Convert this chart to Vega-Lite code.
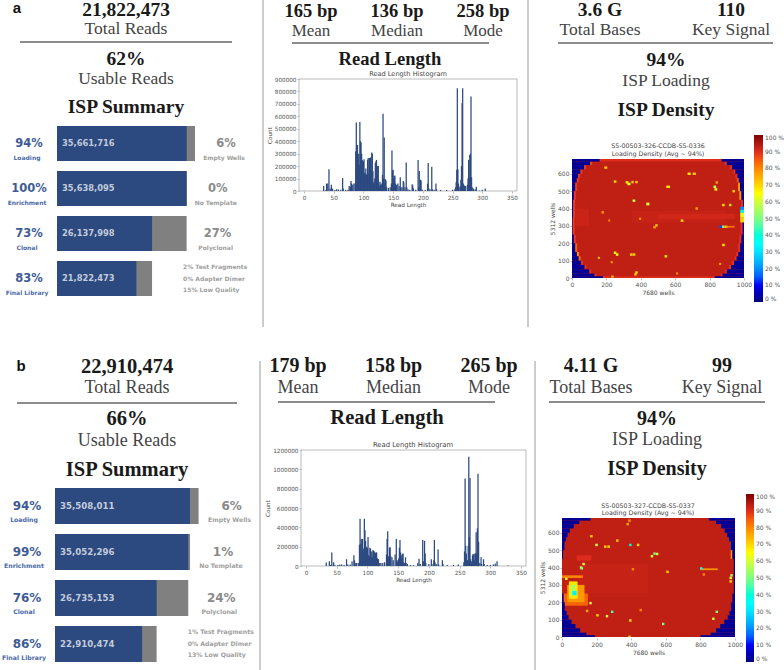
{"$schema":"https://vega.github.io/schema/vega-lite/v6.json","width":784,"height":670,"autosize":{"type":"none"},"padding":0,"background":"white",
"config":{"view":{"stroke":null},"axis":{"grid":false,"domain":false,"labelFont":"DejaVu Sans","titleFont":"DejaVu Sans","labelFontSize":5.7,"titleFontSize":5.7,"labelColor":"#555","titleColor":"#444","titleFontWeight":"normal","tickColor":"#777","tickSize":2,"tickWidth":0.5,"labelPadding":1,"titlePadding":2,"labelOverlap":false,"labelFlush":false},"legend":{"labelFont":"DejaVu Sans","labelFontSize":6,"labelColor":"#555"}},
"resolve":{"scale":{"x":"independent","y":"independent","color":"independent"},"axis":{"x":"independent","y":"independent"}},
"layer":[
{"data":{"values":[{"t":"a","c":"L"}]},"mark":{"type":"text","font":"Liberation Sans","fontWeight":"bold","fontSize":15,"color":"#111"},"encoding":{"text":{"field":"t"},"x":{"field":"c","type":"nominal","scale":{"type":"point","range":[17,17],"padding":0},"axis":null},"y":{"field":"t","type":"nominal","scale":{"type":"point","range":[8,8],"padding":0},"axis":null}}},
{"data":{"values":[{"t":"21,822,473","c":"L"},{"t":"62%","c":"L"},{"t":"ISP Summary","c":"L"}]},"mark":{"type":"text","font":"Liberation Serif","fontWeight":"bold","fontSize":19.5,"color":"#1a1a1a"},"encoding":{"text":{"field":"t"},"x":{"field":"c","type":"nominal","scale":{"type":"point","range":[126,126],"padding":0},"axis":null},"y":{"field":"t","type":"nominal","sort":null,"scale":{"type":"point","range":[10,107],"padding":0},"axis":null}}},
{"data":{"values":[{"t":"Total Reads","c":"L"},{"t":"Usable Reads","c":"L"}]},"mark":{"type":"text","font":"Liberation Serif","fontSize":17.5,"color":"#444"},"encoding":{"text":{"field":"t"},"x":{"field":"c","type":"nominal","scale":{"type":"point","range":[126,126],"padding":0},"axis":null},"y":{"field":"t","type":"nominal","sort":null,"scale":{"type":"point","range":[29,79],"padding":0},"axis":null}}},
{"data":{"values":[{"t":"165 bp","c":"V"},{"t":"136 bp","c":"V"},{"t":"258 bp","c":"V"}]},"mark":{"type":"text","font":"Liberation Serif","fontWeight":"bold","fontSize":18.5,"color":"#1a1a1a"},"encoding":{"text":{"field":"t"},"x":{"field":"t","type":"nominal","sort":null,"scale":{"type":"point","range":[311,483],"padding":0},"axis":null},"y":{"field":"c","type":"nominal","scale":{"type":"point","range":[11,11],"padding":0},"axis":null}}},
{"data":{"values":[{"t":"Mean","c":"V"},{"t":"Median","c":"V"},{"t":"Mode","c":"V"}]},"mark":{"type":"text","font":"Liberation Serif","fontSize":17,"color":"#444"},"encoding":{"text":{"field":"t"},"x":{"field":"t","type":"nominal","sort":null,"scale":{"type":"point","range":[311,483],"padding":0},"axis":null},"y":{"field":"c","type":"nominal","scale":{"type":"point","range":[31,31],"padding":0},"axis":null}}},
{"data":{"values":[{"t":"Read Length","c":"V"}]},"mark":{"type":"text","font":"Liberation Serif","fontWeight":"bold","fontSize":18.6,"color":"#1a1a1a"},"encoding":{"text":{"field":"t"},"x":{"field":"t","type":"nominal","scale":{"type":"point","range":[390,390],"padding":0},"axis":null},"y":{"field":"c","type":"nominal","scale":{"type":"point","range":[59,59],"padding":0},"axis":null}}},
{"data":{"values":[{"t":"3.6 G","c":"V"},{"t":"110","c":"V"}]},"mark":{"type":"text","font":"Liberation Serif","fontWeight":"bold","fontSize":19.5,"color":"#1a1a1a"},"encoding":{"text":{"field":"t"},"x":{"field":"t","type":"nominal","sort":null,"scale":{"type":"point","range":[600,731],"padding":0},"axis":null},"y":{"field":"c","type":"nominal","scale":{"type":"point","range":[10,10],"padding":0},"axis":null}}},
{"data":{"values":[{"t":"Total Bases","c":"V"},{"t":"Key Signal","c":"V"}]},"mark":{"type":"text","font":"Liberation Serif","fontSize":17.5,"color":"#444"},"encoding":{"text":{"field":"t"},"x":{"field":"t","type":"nominal","sort":null,"scale":{"type":"point","range":[600,731],"padding":0},"axis":null},"y":{"field":"c","type":"nominal","scale":{"type":"point","range":[30,30],"padding":0},"axis":null}}},
{"data":{"values":[{"t":"94%","c":"V"},{"t":"ISP Density","c":"V"}]},"mark":{"type":"text","font":"Liberation Serif","fontWeight":"bold","fontSize":19.5,"color":"#1a1a1a"},"encoding":{"text":{"field":"t"},"x":{"field":"c","type":"nominal","scale":{"type":"point","range":[666,666],"padding":0},"axis":null},"y":{"field":"t","type":"nominal","sort":null,"scale":{"type":"point","range":[60,110],"padding":0},"axis":null}}},
{"data":{"values":[{"t":"ISP Loading","c":"V"}]},"mark":{"type":"text","font":"Liberation Serif","fontSize":17.5,"color":"#444"},"encoding":{"text":{"field":"t"},"x":{"field":"c","type":"nominal","scale":{"type":"point","range":[666,666],"padding":0},"axis":null},"y":{"field":"t","type":"nominal","scale":{"type":"point","range":[81,81],"padding":0},"axis":null}}},
{"data":{"values":[{"a":0,"b":1,"k":"r"}]},"mark":{"type":"rule","color":"#666","strokeWidth":1.3},"encoding":{"x":{"field":"a","type":"quantitative","scale":{"domain":[0,1],"range":[20,232]},"axis":null},"x2":{"field":"b"},"y":{"field":"k","type":"nominal","scale":{"type":"point","range":[42,42],"padding":0},"axis":null}}},
{"data":{"values":[{"a":0,"b":1,"k":"r"}]},"mark":{"type":"rule","color":"#666","strokeWidth":1.3},"encoding":{"x":{"field":"a","type":"quantitative","scale":{"domain":[0,1],"range":[292,489]},"axis":null},"x2":{"field":"b"},"y":{"field":"k","type":"nominal","scale":{"type":"point","range":[43,43],"padding":0},"axis":null}}},
{"data":{"values":[{"a":0,"b":1,"k":"r"}]},"mark":{"type":"rule","color":"#666","strokeWidth":1.3},"encoding":{"x":{"field":"a","type":"quantitative","scale":{"domain":[0,1],"range":[558,773]},"axis":null},"x2":{"field":"b"},"y":{"field":"k","type":"nominal","scale":{"type":"point","range":[43,43],"padding":0},"axis":null}}},
{"data":{"values":[{"a":0,"b":1,"k":"d1"},{"a":0,"b":1,"k":"d2"}]},"mark":{"type":"rule","color":"#999","strokeWidth":1},"encoding":{"y":{"field":"a","type":"quantitative","scale":{"domain":[0,1],"range":[0,327]},"axis":null},"y2":{"field":"b"},"x":{"field":"k","type":"nominal","sort":null,"scale":{"type":"point","range":[263,528],"padding":0},"axis":null}}},
{"data":{"values":[
{"stage":"Loading","blue":35661716,"total":37937996,"reads":"35,661,716","pctL":"94%","labL":"Loading","pctR":"6%","labR":"Empty Wells","n1":"","n2":"","n3":""},
{"stage":"Enrichment","blue":35638095,"total":35661716,"reads":"35,638,095","pctL":"100%","labL":"Enrichment","pctR":"0%","labR":"No Template","n1":"","n2":"","n3":""},
{"stage":"Clonal","blue":26137998,"total":35638095,"reads":"26,137,998","pctL":"73%","labL":"Clonal","pctR":"27%","labR":"Polyclonal","n1":"","n2":"","n3":""},
{"stage":"Final Library","blue":21822473,"total":26137998,"reads":"21,822,473","pctL":"83%","labL":"Final Library","pctR":"","labR":"","n1":"2% Test Fragments","n2":"0% Adapter Dimer","n3":"15% Low Quality"}]},
"encoding":{"y":{"field":"stage","type":"nominal","sort":null,"scale":{"type":"band","range":[121,301],"paddingInner":0.2222,"paddingOuter":0.1111},"axis":null}},
"layer":[
{"mark":{"type":"bar","color":"#808080"},"encoding":{"x":{"field":"total","type":"quantitative","stack":null,"scale":{"domain":[0,37937996],"range":[57,195]},"axis":null}}},
{"mark":{"type":"bar","color":"#2c4a80"},"encoding":{"x":{"field":"blue","type":"quantitative","stack":null,"scale":{"domain":[0,37937996],"range":[57,195]},"axis":null}}},
{"mark":{"type":"text","align":"left","dx":5,"font":"DejaVu Sans","fontWeight":"bold","fontSize":8.3,"color":"#c3cbdb"},"encoding":{"text":{"field":"reads"},"x":{"datum":0,"scale":{"domain":[0,37937996],"range":[57,195]},"axis":null}}},
{"mark":{"type":"text","dx":-28,"font":"DejaVu Sans","fontWeight":"bold","fontSize":11.5,"color":"#3e5b96"},"encoding":{"text":{"field":"pctL"},"x":{"datum":0,"scale":{"domain":[0,37937996],"range":[57,195]},"axis":null}}},
{"mark":{"type":"text","dx":-30,"dy":14,"font":"DejaVu Sans","fontWeight":"bold","fontSize":6,"color":"#4a6aa8"},"encoding":{"text":{"field":"labL"},"x":{"datum":0,"scale":{"domain":[0,37937996],"range":[57,195]},"axis":null}}},
{"mark":{"type":"text","dx":31,"font":"DejaVu Sans","fontWeight":"bold","fontSize":11.5,"color":"#8a8a8a"},"encoding":{"text":{"field":"pctR"},"x":{"field":"total","type":"quantitative","stack":null,"scale":{"domain":[0,37937996],"range":[57,195]},"axis":null}}},
{"mark":{"type":"text","dx":29,"dy":14,"font":"DejaVu Sans","fontWeight":"bold","fontSize":6,"color":"#a0a0a0"},"encoding":{"text":{"field":"labR"},"x":{"field":"total","type":"quantitative","stack":null,"scale":{"domain":[0,37937996],"range":[57,195]},"axis":null}}},
{"mark":{"type":"text","align":"left","dx":31,"dy":-12,"font":"DejaVu Sans","fontWeight":"bold","fontSize":6,"color":"#a0a0a0"},"encoding":{"text":{"field":"n1"},"x":{"field":"total","type":"quantitative","stack":null,"scale":{"domain":[0,37937996],"range":[57,195]},"axis":null}}},
{"mark":{"type":"text","align":"left","dx":31,"dy":0,"font":"DejaVu Sans","fontWeight":"bold","fontSize":6,"color":"#a0a0a0"},"encoding":{"text":{"field":"n2"},"x":{"field":"total","type":"quantitative","stack":null,"scale":{"domain":[0,37937996],"range":[57,195]},"axis":null}}},
{"mark":{"type":"text","align":"left","dx":31,"dy":11,"font":"DejaVu Sans","fontWeight":"bold","fontSize":6,"color":"#a0a0a0"},"encoding":{"text":{"field":"n3"},"x":{"field":"total","type":"quantitative","stack":null,"scale":{"domain":[0,37937996],"range":[57,195]},"axis":null}}}
]},
{"data":{"values":[{"t":"Read Length Histogram","c":"V"}]},"mark":{"type":"text","font":"DejaVu Sans","fontSize":6.6,"color":"#444"},"encoding":{"text":{"field":"t"},"x":{"field":"t","type":"nominal","scale":{"type":"point","range":[408,408],"padding":0},"axis":null},"y":{"field":"c","type":"nominal","scale":{"type":"point","range":[74,74],"padding":0},"axis":null}}},
{"data":{"values":[{"x0":0,"x1":350,"y0":0,"y1":900000}]},"mark":{"type":"rect","fill":null,"stroke":"#aaa","strokeWidth":0.8},"encoding":{"x":{"field":"x0","type":"quantitative","scale":{"domain":[0,350],"range":[299,517]},"axis":null},"x2":{"field":"x1"},"y":{"field":"y0","type":"quantitative","scale":{"domain":[0,900000],"range":[191,79]},"axis":null},"y2":{"field":"y1"}}},
{"data":{"values":[{"l":33,"c":40000},{"l":36,"c":5000},{"l":38,"c":60000},{"l":40,"c":60000},{"l":42,"c":175000},{"l":44,"c":20000},{"l":46,"c":50000},{"l":48,"c":20000},{"l":52,"c":8000},{"l":55,"c":15000},{"l":58,"c":12000},{"l":62,"c":10000},{"l":65,"c":105000},{"l":66,"c":20000},{"l":70,"c":8000},{"l":74,"c":10000},{"l":76,"c":40000},{"l":78,"c":35000},{"l":79,"c":80000},{"l":80,"c":60000},{"l":82,"c":50000},{"l":84,"c":60000},{"l":86,"c":60000},{"l":87,"c":320000},{"l":88,"c":550000},{"l":89,"c":370000},{"l":90,"c":370000},{"l":91,"c":210000},{"l":92,"c":300000},{"l":93,"c":210000},{"l":94,"c":555000},{"l":95,"c":400000},{"l":96,"c":390000},{"l":97,"c":300000},{"l":98,"c":250000},{"l":99,"c":240000},{"l":100,"c":240000},{"l":101,"c":255000},{"l":102,"c":145000},{"l":103,"c":140000},{"l":104,"c":180000},{"l":105,"c":130000},{"l":106,"c":135000},{"l":107,"c":250000},{"l":108,"c":265000},{"l":109,"c":140000},{"l":110,"c":265000},{"l":111,"c":150000},{"l":112,"c":270000},{"l":113,"c":150000},{"l":114,"c":310000},{"l":115,"c":300000},{"l":116,"c":160000},{"l":117,"c":70000},{"l":118,"c":60000},{"l":119,"c":100000},{"l":120,"c":225000},{"l":121,"c":240000},{"l":122,"c":250000},{"l":123,"c":130000},{"l":124,"c":200000},{"l":125,"c":200000},{"l":126,"c":70000},{"l":127,"c":40000},{"l":128,"c":75000},{"l":129,"c":50000},{"l":130,"c":50000},{"l":131,"c":60000},{"l":132,"c":130000},{"l":133,"c":620000},{"l":134,"c":100000},{"l":135,"c":430000},{"l":136,"c":60000},{"l":137,"c":95000},{"l":138,"c":85000},{"l":139,"c":30000},{"l":142,"c":25000},{"l":145,"c":30000},{"l":147,"c":60000},{"l":148,"c":325000},{"l":149,"c":165000},{"l":150,"c":170000},{"l":151,"c":100000},{"l":152,"c":120000},{"l":153,"c":125000},{"l":154,"c":60000},{"l":155,"c":40000},{"l":156,"c":50000},{"l":158,"c":60000},{"l":160,"c":40000},{"l":162,"c":110000},{"l":163,"c":30000},{"l":165,"c":30000},{"l":167,"c":80000},{"l":168,"c":70000},{"l":170,"c":30000},{"l":172,"c":230000},{"l":173,"c":30000},{"l":175,"c":15000},{"l":178,"c":10000},{"l":182,"c":55000},{"l":183,"c":45000},{"l":184,"c":20000},{"l":188,"c":10000},{"l":192,"c":250000},{"l":193,"c":30000},{"l":194,"c":160000},{"l":196,"c":90000},{"l":197,"c":85000},{"l":199,"c":10000},{"l":204,"c":8000},{"l":208,"c":60000},{"l":209,"c":225000},{"l":210,"c":20000},{"l":212,"c":15000},{"l":215,"c":195000},{"l":216,"c":15000},{"l":219,"c":10000},{"l":222,"c":60000},{"l":223,"c":15000},{"l":230,"c":8000},{"l":240,"c":8000},{"l":250,"c":10000},{"l":254,"c":15000},{"l":255,"c":30000},{"l":256,"c":70000},{"l":257,"c":170000},{"l":258,"c":825000},{"l":259,"c":175000},{"l":260,"c":60000},{"l":261,"c":30000},{"l":263,"c":40000},{"l":264,"c":90000},{"l":265,"c":200000},{"l":266,"c":705000},{"l":267,"c":825000},{"l":268,"c":60000},{"l":269,"c":50000},{"l":270,"c":40000},{"l":272,"c":40000},{"l":275,"c":50000},{"l":276,"c":100000},{"l":277,"c":250000},{"l":278,"c":110000},{"l":279,"c":290000},{"l":280,"c":300000},{"l":281,"c":760000},{"l":282,"c":110000},{"l":283,"c":30000},{"l":285,"c":20000},{"l":288,"c":15000},{"l":290,"c":35000},{"l":295,"c":5000},{"l":300,"c":10000},{"l":305,"c":20000}]},"mark":{"type":"bar","orient":"vertical","width":1.25,"color":"#2c4a80"},"encoding":{"x":{"field":"l","type":"quantitative","scale":{"domain":[0,350],"range":[299,517]},"axis":{"orient":"bottom","offset":-479,"title":"Read Length","values":[0,50,100,150,200,250,300,350]}},"y":{"field":"c","type":"quantitative","stack":null,"scale":{"domain":[0,900000],"range":[191,79]},"axis":{"orient":"left","offset":-299,"title":"Count","values":[0,100000,200000,300000,400000,500000,600000,700000,800000,900000],"format":"d"}}}},
{"data":{"values":[{"t":"S5-00503-326-CCDB-S5-0336","c":"V"},{"t":"Loading Density (Avg ~ 94%)","c":"V"}]},"mark":{"type":"text","font":"DejaVu Sans","fontSize":6.3,"color":"#444"},"encoding":{"text":{"field":"t"},"x":{"field":"c","type":"nominal","scale":{"type":"point","range":[658,658],"padding":0},"axis":null},"y":{"field":"t","type":"nominal","sort":null,"scale":{"type":"point","range":[146,154],"padding":0},"axis":null}}},
{"data":{"values":[
{"a":0,"b":1000,"c":0,"d":685,"v":93},
{"a":350,"b":900,"c":320,"d":385,"v":92.3},{"a":500,"b":950,"c":340,"d":370,"v":91.3},{"a":20,"b":100,"c":300,"d":400,"v":92},
{"a":180,"b":830,"c":0,"d":10,"v":90},{"a":160,"b":870,"c":670,"d":685,"v":90},
{"a":180,"b":192,"c":0,"d":10,"v":89},{"a":818,"b":830,"c":0,"d":10,"v":89},{"a":130,"b":142,"c":10,"d":25,"v":89},{"a":863,"b":875,"c":10,"d":25,"v":89},{"a":100,"b":112,"c":25,"d":50,"v":89},{"a":888,"b":900,"c":25,"d":50,"v":89},{"a":72,"b":84,"c":50,"d":75,"v":89},{"a":913,"b":925,"c":50,"d":75,"v":89},{"a":52,"b":64,"c":75,"d":100,"v":89},{"a":930,"b":942,"c":75,"d":100,"v":89},{"a":38,"b":50,"c":100,"d":125,"v":82},{"a":945,"b":957,"c":100,"d":125,"v":89},{"a":28,"b":40,"c":125,"d":150,"v":78},{"a":955,"b":967,"c":125,"d":150,"v":89},{"a":18,"b":30,"c":150,"d":200,"v":84},{"a":966,"b":978,"c":150,"d":200,"v":89},{"a":10,"b":22,"c":200,"d":250,"v":88},{"a":973,"b":985,"c":200,"d":250,"v":89},{"a":3,"b":15,"c":250,"d":350,"v":88},{"a":980,"b":992,"c":250,"d":350,"v":89},{"a":6,"b":18,"c":350,"d":450,"v":88},{"a":982,"b":994,"c":350,"d":450,"v":89},{"a":10,"b":22,"c":450,"d":500,"v":88},{"a":973,"b":985,"c":450,"d":500,"v":78},{"a":18,"b":30,"c":500,"d":550,"v":88},{"a":965,"b":977,"c":500,"d":550,"v":78},{"a":27,"b":39,"c":550,"d":575,"v":88},{"a":958,"b":970,"c":550,"d":575,"v":86},{"a":35,"b":47,"c":575,"d":600,"v":88},{"a":950,"b":962,"c":575,"d":600,"v":89},{"a":48,"b":60,"c":600,"d":625,"v":88},{"a":938,"b":950,"c":600,"d":625,"v":89},{"a":70,"b":82,"c":625,"d":650,"v":88},{"a":918,"b":930,"c":625,"d":650,"v":89},{"a":105,"b":117,"c":650,"d":670,"v":87},{"a":888,"b":900,"c":650,"d":670,"v":89},
{"a":0,"b":180,"c":0,"d":10,"v":2},{"a":830,"b":1000,"c":0,"d":10,"v":2},{"a":0,"b":130,"c":10,"d":25,"v":2},{"a":875,"b":1000,"c":10,"d":25,"v":2},{"a":0,"b":100,"c":25,"d":50,"v":2},{"a":900,"b":1000,"c":25,"d":50,"v":2},{"a":0,"b":72,"c":50,"d":75,"v":2},{"a":925,"b":1000,"c":50,"d":75,"v":2},{"a":0,"b":52,"c":75,"d":100,"v":2},{"a":942,"b":1000,"c":75,"d":100,"v":2},{"a":0,"b":38,"c":100,"d":125,"v":2},{"a":957,"b":1000,"c":100,"d":125,"v":2},{"a":0,"b":28,"c":125,"d":150,"v":2},{"a":967,"b":1000,"c":125,"d":150,"v":2},{"a":0,"b":18,"c":150,"d":200,"v":2},{"a":978,"b":1000,"c":150,"d":200,"v":2},{"a":0,"b":10,"c":200,"d":250,"v":2},{"a":985,"b":1000,"c":200,"d":250,"v":2},{"a":0,"b":3,"c":250,"d":350,"v":2},{"a":992,"b":1000,"c":250,"d":350,"v":2},{"a":0,"b":6,"c":350,"d":450,"v":2},{"a":994,"b":1000,"c":350,"d":450,"v":2},{"a":0,"b":10,"c":450,"d":500,"v":2},{"a":985,"b":1000,"c":450,"d":500,"v":2},{"a":0,"b":18,"c":500,"d":550,"v":2},{"a":977,"b":1000,"c":500,"d":550,"v":2},{"a":0,"b":27,"c":550,"d":575,"v":2},{"a":970,"b":1000,"c":550,"d":575,"v":2},{"a":0,"b":35,"c":575,"d":600,"v":2},{"a":962,"b":1000,"c":575,"d":600,"v":2},{"a":0,"b":48,"c":600,"d":625,"v":2},{"a":950,"b":1000,"c":600,"d":625,"v":2},{"a":0,"b":70,"c":625,"d":650,"v":2},{"a":930,"b":1000,"c":625,"d":650,"v":2},{"a":0,"b":105,"c":650,"d":670,"v":2},{"a":900,"b":1000,"c":650,"d":670,"v":2},{"a":0,"b":160,"c":670,"d":685,"v":2},{"a":870,"b":1000,"c":670,"d":685,"v":2},
{"a":188,"b":205,"c":628,"d":642,"v":72},{"a":672,"b":690,"c":593,"d":607,"v":68},{"a":702,"b":720,"c":593,"d":607,"v":72},{"a":243,"b":258,"c":548,"d":562,"v":70},{"a":312,"b":328,"c":544,"d":558,"v":66},{"a":322,"b":340,"c":534,"d":548,"v":62},{"a":345,"b":358,"c":545,"d":559,"v":70},{"a":368,"b":382,"c":545,"d":559,"v":72},{"a":548,"b":570,"c":518,"d":532,"v":68},{"a":822,"b":838,"c":518,"d":532,"v":58},{"a":828,"b":845,"c":503,"d":517,"v":64},{"a":835,"b":848,"c":543,"d":557,"v":75},{"a":933,"b":947,"c":493,"d":507,"v":70},{"a":352,"b":368,"c":438,"d":452,"v":58},{"a":432,"b":450,"c":418,"d":434,"v":60},{"a":873,"b":887,"c":413,"d":427,"v":68},{"a":913,"b":927,"c":413,"d":427,"v":68},{"a":718,"b":732,"c":393,"d":407,"v":76},{"a":172,"b":185,"c":371,"d":385,"v":76},{"a":632,"b":648,"c":323,"d":337,"v":70},{"a":484,"b":498,"c":296,"d":310,"v":72},{"a":473,"b":487,"c":285,"d":299,"v":76},{"a":857,"b":873,"c":288,"d":302,"v":14},{"a":873,"b":888,"c":288,"d":302,"v":52},{"a":888,"b":905,"c":288,"d":302,"v":74},{"a":905,"b":945,"c":290,"d":300,"v":82},{"a":978,"b":1000,"c":392,"d":410,"v":20},{"a":978,"b":1000,"c":375,"d":392,"v":38},{"a":978,"b":1000,"c":350,"d":375,"v":62},{"a":978,"b":1000,"c":320,"d":350,"v":70},{"a":873,"b":888,"c":183,"d":197,"v":68},{"a":243,"b":258,"c":138,"d":152,"v":66},{"a":255,"b":270,"c":128,"d":142,"v":64},{"a":337,"b":352,"c":128,"d":142,"v":70},{"a":353,"b":368,"c":128,"d":142,"v":70},{"a":538,"b":553,"c":118,"d":132,"v":68},{"a":368,"b":382,"c":25,"d":39,"v":70},{"a":362,"b":376,"c":14,"d":28,"v":70},{"a":228,"b":242,"c":2,"d":14,"v":72},{"a":150,"b":162,"c":110,"d":122,"v":72},{"a":225,"b":237,"c":85,"d":97,"v":76},{"a":855,"b":867,"c":75,"d":87,"v":76},{"a":605,"b":617,"c":20,"d":32,"v":78},{"a":390,"b":402,"c":335,"d":347,"v":76},{"a":210,"b":222,"c":325,"d":337,"v":80}
]},"mark":{"type":"rect"},"encoding":{"x":{"field":"a","type":"quantitative","scale":{"domain":[0,1000],"range":[572,744]},"axis":{"orient":"bottom","offset":-392,"title":"7680 wells","values":[0,200,400,600,800,1000],"format":"d","labelFontSize":6,"titleFontSize":6}},"x2":{"field":"b"},"y":{"field":"c","type":"quantitative","scale":{"domain":[0,685],"range":[278,159]},"axis":{"orient":"left","offset":-572,"title":"5312 wells","values":[0,100,200,300,400,500,600],"labelFontSize":6,"titleFontSize":6}},"y2":{"field":"d"},"color":{"field":"v","type":"quantitative","scale":{"domain":[0,11,34,50,65,89,100],"range":["#00007f","#0000ff","#00ffff","#7fff7f","#ffff00","#e8301f","#7f0000"]},"legend":{"orient":"none","legendX":754,"legendY":135,"title":null,"gradientLength":167,"gradientThickness":9,"values":[0,10,20,30,40,50,60,70,80,90,100],"labelExpr":"datum.label + ' %'","labelOverlap":false}}}},

{"data":{"values":[{"t":"b","c":"L"}]},"mark":{"type":"text","font":"Liberation Sans","fontWeight":"bold","fontSize":15,"color":"#111"},"encoding":{"text":{"field":"t"},"x":{"field":"c","type":"nominal","scale":{"type":"point","range":[21,21],"padding":0},"axis":null},"y":{"field":"t","type":"nominal","scale":{"type":"point","range":[366,366],"padding":0},"axis":null}}},
{"data":{"values":[{"t":"22,910,474","c":"L"},{"t":"66%","c":"L"},{"t":"ISP Summary","c":"L"}]},"mark":{"type":"text","font":"Liberation Serif","fontWeight":"bold","fontSize":20.5,"color":"#1a1a1a"},"encoding":{"text":{"field":"t"},"x":{"field":"c","type":"nominal","scale":{"type":"point","range":[127,127],"padding":0},"axis":null},"y":{"field":"t","type":"nominal","sort":null,"scale":{"type":"point","range":[367,470],"padding":0},"axis":null}}},
{"data":{"values":[{"t":"Total Reads","c":"L"},{"t":"Usable Reads","c":"L"}]},"mark":{"type":"text","font":"Liberation Serif","fontSize":18,"color":"#444"},"encoding":{"text":{"field":"t"},"x":{"field":"c","type":"nominal","scale":{"type":"point","range":[127,127],"padding":0},"axis":null},"y":{"field":"t","type":"nominal","sort":null,"scale":{"type":"point","range":[388,441],"padding":0},"axis":null}}},
{"data":{"values":[{"t":"179 bp","c":"V"},{"t":"158 bp","c":"V"},{"t":"265 bp","c":"V"}]},"mark":{"type":"text","font":"Liberation Serif","fontWeight":"bold","fontSize":20,"color":"#1a1a1a"},"encoding":{"text":{"field":"t"},"x":{"field":"t","type":"nominal","sort":null,"scale":{"type":"point","range":[298,489],"padding":0},"axis":null},"y":{"field":"c","type":"nominal","scale":{"type":"point","range":[366,366],"padding":0},"axis":null}}},
{"data":{"values":[{"t":"Mean","c":"V"},{"t":"Median","c":"V"},{"t":"Mode","c":"V"}]},"mark":{"type":"text","font":"Liberation Serif","fontSize":18,"color":"#444"},"encoding":{"text":{"field":"t"},"x":{"field":"t","type":"nominal","sort":null,"scale":{"type":"point","range":[298,489],"padding":0},"axis":null},"y":{"field":"c","type":"nominal","scale":{"type":"point","range":[388,388],"padding":0},"axis":null}}},
{"data":{"values":[{"t":"Read Length","c":"V"}]},"mark":{"type":"text","font":"Liberation Serif","fontWeight":"bold","fontSize":20.5,"color":"#1a1a1a"},"encoding":{"text":{"field":"t"},"x":{"field":"t","type":"nominal","scale":{"type":"point","range":[387,387],"padding":0},"axis":null},"y":{"field":"c","type":"nominal","scale":{"type":"point","range":[418,418],"padding":0},"axis":null}}},
{"data":{"values":[{"t":"4.11 G","c":"V"},{"t":"99","c":"V"}]},"mark":{"type":"text","font":"Liberation Serif","fontWeight":"bold","fontSize":20,"color":"#1a1a1a"},"encoding":{"text":{"field":"t"},"x":{"field":"t","type":"nominal","sort":null,"scale":{"type":"point","range":[591,722],"padding":0},"axis":null},"y":{"field":"c","type":"nominal","scale":{"type":"point","range":[366,366],"padding":0},"axis":null}}},
{"data":{"values":[{"t":"Total Bases","c":"V"},{"t":"Key Signal","c":"V"}]},"mark":{"type":"text","font":"Liberation Serif","fontSize":18,"color":"#444"},"encoding":{"text":{"field":"t"},"x":{"field":"t","type":"nominal","sort":null,"scale":{"type":"point","range":[591,722],"padding":0},"axis":null},"y":{"field":"c","type":"nominal","scale":{"type":"point","range":[388,388],"padding":0},"axis":null}}},
{"data":{"values":[{"t":"94%","c":"V"},{"t":"ISP Density","c":"V"}]},"mark":{"type":"text","font":"Liberation Serif","fontWeight":"bold","fontSize":20,"color":"#1a1a1a"},"encoding":{"text":{"field":"t"},"x":{"field":"c","type":"nominal","scale":{"type":"point","range":[657,657],"padding":0},"axis":null},"y":{"field":"t","type":"nominal","sort":null,"scale":{"type":"point","range":[419,469],"padding":0},"axis":null}}},
{"data":{"values":[{"t":"ISP Loading","c":"V"}]},"mark":{"type":"text","font":"Liberation Serif","fontSize":18,"color":"#444"},"encoding":{"text":{"field":"t"},"x":{"field":"c","type":"nominal","scale":{"type":"point","range":[657,657],"padding":0},"axis":null},"y":{"field":"t","type":"nominal","scale":{"type":"point","range":[440,440],"padding":0},"axis":null}}},
{"data":{"values":[{"a":0,"b":1,"k":"r"}]},"mark":{"type":"rule","color":"#666","strokeWidth":1.3},"encoding":{"x":{"field":"a","type":"quantitative","scale":{"domain":[0,1],"range":[17,237]},"axis":null},"x2":{"field":"b"},"y":{"field":"k","type":"nominal","scale":{"type":"point","range":[403,403],"padding":0},"axis":null}}},
{"data":{"values":[{"a":0,"b":1,"k":"r"}]},"mark":{"type":"rule","color":"#666","strokeWidth":1.3},"encoding":{"x":{"field":"a","type":"quantitative","scale":{"domain":[0,1],"range":[278,495]},"axis":null},"x2":{"field":"b"},"y":{"field":"k","type":"nominal","scale":{"type":"point","range":[402,402],"padding":0},"axis":null}}},
{"data":{"values":[{"a":0,"b":1,"k":"r"}]},"mark":{"type":"rule","color":"#666","strokeWidth":1.3},"encoding":{"x":{"field":"a","type":"quantitative","scale":{"domain":[0,1],"range":[549,765]},"axis":null},"x2":{"field":"b"},"y":{"field":"k","type":"nominal","scale":{"type":"point","range":[402,402],"padding":0},"axis":null}}},
{"data":{"values":[{"a":0,"b":1,"k":"d1"},{"a":0,"b":1,"k":"d2"}]},"mark":{"type":"rule","color":"#999","strokeWidth":1},"encoding":{"y":{"field":"a","type":"quantitative","scale":{"domain":[0,1],"range":[361,670]},"axis":null},"y2":{"field":"b"},"x":{"field":"k","type":"nominal","sort":null,"scale":{"type":"point","range":[260,535],"padding":0},"axis":null}}},
{"data":{"values":[
{"stage":"Loading","blue":35508011,"total":37774480,"reads":"35,508,011","pctL":"94%","labL":"Loading","pctR":"6%","labR":"Empty Wells","n1":"","n2":"","n3":""},
{"stage":"Enrichment","blue":35052296,"total":35508011,"reads":"35,052,296","pctL":"99%","labL":"Enrichment","pctR":"1%","labR":"No Template","n1":"","n2":"","n3":""},
{"stage":"Clonal","blue":26735153,"total":35052296,"reads":"26,735,153","pctL":"76%","labL":"Clonal","pctR":"24%","labR":"Polyclonal","n1":"","n2":"","n3":""},
{"stage":"Final Library","blue":22910474,"total":26735153,"reads":"22,910,474","pctL":"86%","labL":"Final Library","pctR":"","labR":"","n1":"1% Test Fragments","n2":"0% Adapter Dimer","n3":"13% Low Quality"}]},
"encoding":{"y":{"field":"stage","type":"nominal","sort":null,"scale":{"type":"band","range":[483,667],"paddingInner":0.2174,"paddingOuter":0.1087},"axis":null}},
"layer":[
{"mark":{"type":"bar","color":"#808080"},"encoding":{"x":{"field":"total","type":"quantitative","stack":null,"scale":{"domain":[0,37774480],"range":[55,198.6]},"axis":null}}},
{"mark":{"type":"bar","color":"#2c4a80"},"encoding":{"x":{"field":"blue","type":"quantitative","stack":null,"scale":{"domain":[0,37774480],"range":[55,198.6]},"axis":null}}},
{"mark":{"type":"text","align":"left","dx":5,"font":"DejaVu Sans","fontWeight":"bold","fontSize":8.6,"color":"#c3cbdb"},"encoding":{"text":{"field":"reads"},"x":{"datum":0,"scale":{"domain":[0,37774480],"range":[55,198.6]},"axis":null}}},
{"mark":{"type":"text","dx":-28,"font":"DejaVu Sans","fontWeight":"bold","fontSize":12,"color":"#3e5b96"},"encoding":{"text":{"field":"pctL"},"x":{"datum":0,"scale":{"domain":[0,37774480],"range":[55,198.6]},"axis":null}}},
{"mark":{"type":"text","dx":-31,"dy":14,"font":"DejaVu Sans","fontWeight":"bold","fontSize":6.2,"color":"#4a6aa8"},"encoding":{"text":{"field":"labL"},"x":{"datum":0,"scale":{"domain":[0,37774480],"range":[55,198.6]},"axis":null}}},
{"mark":{"type":"text","dx":33,"font":"DejaVu Sans","fontWeight":"bold","fontSize":12,"color":"#8a8a8a"},"encoding":{"text":{"field":"pctR"},"x":{"field":"total","type":"quantitative","stack":null,"scale":{"domain":[0,37774480],"range":[55,198.6]},"axis":null}}},
{"mark":{"type":"text","dx":31,"dy":14,"font":"DejaVu Sans","fontWeight":"bold","fontSize":6.2,"color":"#a0a0a0"},"encoding":{"text":{"field":"labR"},"x":{"field":"total","type":"quantitative","stack":null,"scale":{"domain":[0,37774480],"range":[55,198.6]},"axis":null}}},
{"mark":{"type":"text","align":"left","dx":31,"dy":-12,"font":"DejaVu Sans","fontWeight":"bold","fontSize":6.2,"color":"#a0a0a0"},"encoding":{"text":{"field":"n1"},"x":{"field":"total","type":"quantitative","stack":null,"scale":{"domain":[0,37774480],"range":[55,198.6]},"axis":null}}},
{"mark":{"type":"text","align":"left","dx":31,"dy":0,"font":"DejaVu Sans","fontWeight":"bold","fontSize":6.2,"color":"#a0a0a0"},"encoding":{"text":{"field":"n2"},"x":{"field":"total","type":"quantitative","stack":null,"scale":{"domain":[0,37774480],"range":[55,198.6]},"axis":null}}},
{"mark":{"type":"text","align":"left","dx":31,"dy":11,"font":"DejaVu Sans","fontWeight":"bold","fontSize":6.2,"color":"#a0a0a0"},"encoding":{"text":{"field":"n3"},"x":{"field":"total","type":"quantitative","stack":null,"scale":{"domain":[0,37774480],"range":[55,198.6]},"axis":null}}}
]},
{"data":{"values":[{"t":"Read Length Histogram","c":"V"}]},"mark":{"type":"text","font":"DejaVu Sans","fontSize":6.8,"color":"#444"},"encoding":{"text":{"field":"t"},"x":{"field":"t","type":"nominal","scale":{"type":"point","range":[413,413],"padding":0},"axis":null},"y":{"field":"c","type":"nominal","scale":{"type":"point","range":[445,445],"padding":0},"axis":null}}},
{"data":{"values":[{"x0":0,"x1":350,"y0":0,"y1":1200000}]},"mark":{"type":"rect","fill":null,"stroke":"#aaa","strokeWidth":0.8},"encoding":{"x":{"field":"x0","type":"quantitative","scale":{"domain":[0,350],"range":[301,526]},"axis":null},"x2":{"field":"x1"},"y":{"field":"y0","type":"quantitative","scale":{"domain":[0,1200000],"range":[566,450]},"axis":null},"y2":{"field":"y1"}}},
{"data":{"values":[{"l":33,"c":35000},{"l":38,"c":50000},{"l":40,"c":10000},{"l":42,"c":140000},{"l":45,"c":40000},{"l":47,"c":10000},{"l":52,"c":10000},{"l":55,"c":15000},{"l":58,"c":15000},{"l":62,"c":10000},{"l":66,"c":70000},{"l":68,"c":15000},{"l":72,"c":15000},{"l":75,"c":50000},{"l":78,"c":110000},{"l":79,"c":60000},{"l":80,"c":30000},{"l":82,"c":30000},{"l":85,"c":30000},{"l":86,"c":30000},{"l":87,"c":220000},{"l":88,"c":490000},{"l":89,"c":230000},{"l":90,"c":280000},{"l":91,"c":150000},{"l":92,"c":280000},{"l":93,"c":150000},{"l":94,"c":180000},{"l":95,"c":490000},{"l":96,"c":370000},{"l":97,"c":260000},{"l":98,"c":200000},{"l":99,"c":190000},{"l":100,"c":190000},{"l":101,"c":300000},{"l":102,"c":110000},{"l":103,"c":100000},{"l":104,"c":190000},{"l":105,"c":180000},{"l":106,"c":90000},{"l":107,"c":150000},{"l":108,"c":90000},{"l":109,"c":165000},{"l":110,"c":155000},{"l":111,"c":150000},{"l":112,"c":140000},{"l":113,"c":130000},{"l":114,"c":140000},{"l":115,"c":140000},{"l":116,"c":80000},{"l":117,"c":70000},{"l":118,"c":70000},{"l":120,"c":30000},{"l":122,"c":30000},{"l":125,"c":30000},{"l":128,"c":40000},{"l":131,"c":120000},{"l":132,"c":280000},{"l":133,"c":360000},{"l":134,"c":100000},{"l":135,"c":90000},{"l":136,"c":190000},{"l":137,"c":195000},{"l":138,"c":100000},{"l":140,"c":90000},{"l":142,"c":60000},{"l":145,"c":120000},{"l":147,"c":280000},{"l":148,"c":60000},{"l":149,"c":40000},{"l":150,"c":60000},{"l":151,"c":80000},{"l":152,"c":190000},{"l":153,"c":270000},{"l":154,"c":140000},{"l":155,"c":80000},{"l":156,"c":110000},{"l":157,"c":125000},{"l":158,"c":130000},{"l":159,"c":40000},{"l":160,"c":30000},{"l":162,"c":90000},{"l":163,"c":30000},{"l":165,"c":20000},{"l":170,"c":10000},{"l":175,"c":8000},{"l":182,"c":30000},{"l":184,"c":75000},{"l":186,"c":20000},{"l":190,"c":270000},{"l":191,"c":50000},{"l":193,"c":260000},{"l":194,"c":130000},{"l":195,"c":30000},{"l":200,"c":20000},{"l":204,"c":70000},{"l":205,"c":20000},{"l":208,"c":60000},{"l":209,"c":270000},{"l":210,"c":40000},{"l":212,"c":20000},{"l":215,"c":170000},{"l":216,"c":15000},{"l":222,"c":60000},{"l":223,"c":20000},{"l":230,"c":10000},{"l":240,"c":10000},{"l":248,"c":15000},{"l":257,"c":40000},{"l":258,"c":150000},{"l":259,"c":905000},{"l":260,"c":210000},{"l":261,"c":130000},{"l":262,"c":60000},{"l":263,"c":60000},{"l":264,"c":210000},{"l":265,"c":1130000},{"l":266,"c":300000},{"l":267,"c":910000},{"l":268,"c":70000},{"l":269,"c":50000},{"l":270,"c":40000},{"l":271,"c":110000},{"l":272,"c":125000},{"l":273,"c":120000},{"l":274,"c":60000},{"l":275,"c":130000},{"l":276,"c":130000},{"l":277,"c":350000},{"l":278,"c":130000},{"l":279,"c":390000},{"l":280,"c":955000},{"l":281,"c":250000},{"l":283,"c":30000},{"l":285,"c":90000},{"l":286,"c":20000},{"l":289,"c":70000},{"l":290,"c":20000},{"l":295,"c":10000},{"l":300,"c":10000},{"l":305,"c":15000},{"l":308,"c":25000},{"l":311,"c":50000},{"l":329,"c":4000}]},"mark":{"type":"bar","orient":"vertical","width":1.25,"color":"#2c4a80"},"encoding":{"x":{"field":"l","type":"quantitative","scale":{"domain":[0,350],"range":[301,526]},"axis":{"orient":"bottom","offset":-104,"title":"Read Length","values":[0,50,100,150,200,250,300,350]}},"y":{"field":"c","type":"quantitative","stack":null,"scale":{"domain":[0,1200000],"range":[566,450]},"axis":{"orient":"left","offset":-301,"title":"Count","values":[0,200000,400000,600000,800000,1000000,1200000],"format":"d"}}}},
{"data":{"values":[{"t":"S5-00503-327-CCDB-S5-0337","c":"V"},{"t":"Loading Density (Avg ~ 94%)","c":"V"}]},"mark":{"type":"text","font":"DejaVu Sans","fontSize":6.3,"color":"#444"},"encoding":{"text":{"field":"t"},"x":{"field":"c","type":"nominal","scale":{"type":"point","range":[648,648],"padding":0},"axis":null},"y":{"field":"t","type":"nominal","sort":null,"scale":{"type":"point","range":[506,513],"padding":0},"axis":null}}},
{"data":{"values":[
{"a":0,"b":1000,"c":0,"d":685,"v":93},
{"a":100,"b":500,"c":250,"d":420,"v":92.4},{"a":0,"b":120,"c":340,"d":355,"v":80},{"a":10,"b":150,"c":180,"d":250,"v":84},{"a":30,"b":130,"c":200,"d":300,"v":78},{"a":40,"b":90,"c":220,"d":320,"v":68},{"a":50,"b":80,"c":240,"d":300,"v":56},{"a":60,"b":85,"c":240,"d":265,"v":36},{"a":65,"b":80,"c":245,"d":255,"v":30},{"a":975,"b":985,"c":450,"d":550,"v":78},{"a":800,"b":900,"c":385,"d":395,"v":78},{"a":85,"b":170,"c":440,"d":470,"v":90},
{"a":0,"b":190,"c":0,"d":10,"v":2},{"a":800,"b":1000,"c":0,"d":10,"v":2},{"a":0,"b":140,"c":10,"d":25,"v":2},{"a":860,"b":1000,"c":10,"d":25,"v":2},{"a":0,"b":105,"c":25,"d":50,"v":2},{"a":890,"b":1000,"c":25,"d":50,"v":2},{"a":0,"b":78,"c":50,"d":75,"v":2},{"a":915,"b":1000,"c":50,"d":75,"v":2},{"a":0,"b":55,"c":75,"d":100,"v":2},{"a":938,"b":1000,"c":75,"d":100,"v":2},{"a":0,"b":38,"c":100,"d":125,"v":2},{"a":958,"b":1000,"c":100,"d":125,"v":2},{"a":0,"b":27,"c":125,"d":150,"v":2},{"a":968,"b":1000,"c":125,"d":150,"v":2},{"a":0,"b":16,"c":150,"d":200,"v":2},{"a":978,"b":1000,"c":150,"d":200,"v":2},{"a":0,"b":8,"c":200,"d":250,"v":2},{"a":985,"b":1000,"c":200,"d":250,"v":2},{"a":993,"b":1000,"c":250,"d":450,"v":2},{"a":0,"b":6,"c":450,"d":500,"v":2},{"a":985,"b":1000,"c":450,"d":500,"v":2},{"a":0,"b":14,"c":500,"d":550,"v":2},{"a":975,"b":1000,"c":500,"d":550,"v":2},{"a":0,"b":23,"c":550,"d":575,"v":2},{"a":965,"b":1000,"c":550,"d":575,"v":2},{"a":0,"b":32,"c":575,"d":600,"v":2},{"a":955,"b":1000,"c":575,"d":600,"v":2},{"a":0,"b":45,"c":600,"d":625,"v":2},{"a":940,"b":1000,"c":600,"d":625,"v":2},{"a":0,"b":68,"c":625,"d":650,"v":2},{"a":920,"b":1000,"c":625,"d":650,"v":2},{"a":0,"b":100,"c":650,"d":670,"v":2},{"a":890,"b":1000,"c":650,"d":670,"v":2},{"a":0,"b":165,"c":670,"d":685,"v":2},{"a":850,"b":1000,"c":670,"d":685,"v":2},
{"a":163,"b":177,"c":573,"d":587,"v":70},{"a":192,"b":207,"c":523,"d":537,"v":58},{"a":243,"b":257,"c":513,"d":527,"v":70},{"a":262,"b":277,"c":513,"d":527,"v":70},{"a":313,"b":327,"c":548,"d":562,"v":72},{"a":388,"b":402,"c":523,"d":537,"v":40},{"a":433,"b":447,"c":523,"d":537,"v":70},{"a":513,"b":527,"c":458,"d":472,"v":60},{"a":528,"b":542,"c":473,"d":487,"v":50},{"a":543,"b":557,"c":471,"d":485,"v":60},{"a":373,"b":387,"c":643,"d":657,"v":75},{"a":383,"b":397,"c":663,"d":677,"v":78},{"a":103,"b":117,"c":393,"d":407,"v":55},{"a":118,"b":132,"c":413,"d":427,"v":60},{"a":108,"b":122,"c":388,"d":402,"v":50},{"a":18,"b":32,"c":328,"d":342,"v":65},{"a":603,"b":617,"c":368,"d":382,"v":70},{"a":798,"b":812,"c":388,"d":402,"v":35},{"a":813,"b":827,"c":353,"d":367,"v":80},{"a":968,"b":982,"c":333,"d":347,"v":60},{"a":968,"b":982,"c":313,"d":327,"v":70},{"a":973,"b":987,"c":348,"d":362,"v":55},{"a":158,"b":172,"c":188,"d":202,"v":60},{"a":138,"b":152,"c":143,"d":157,"v":75},{"a":198,"b":212,"c":118,"d":132,"v":70},{"a":283,"b":297,"c":138,"d":152,"v":45},{"a":253,"b":267,"c":113,"d":127,"v":60},{"a":388,"b":402,"c":88,"d":102,"v":70},{"a":578,"b":592,"c":68,"d":82,"v":50},{"a":868,"b":882,"c":98,"d":112,"v":60},{"a":888,"b":902,"c":138,"d":152,"v":50},{"a":383,"b":397,"c":0,"d":8,"v":70},{"a":448,"b":462,"c":148,"d":162,"v":80},{"a":403,"b":417,"c":383,"d":397,"v":80}
]},"mark":{"type":"rect"},"encoding":{"x":{"field":"a","type":"quantitative","scale":{"domain":[0,1000],"range":[562,735]},"axis":{"orient":"bottom","offset":-32,"title":"7680 wells","values":[0,200,400,600,800,1000],"format":"d","labelFontSize":6,"titleFontSize":6}},"x2":{"field":"b"},"y":{"field":"c","type":"quantitative","scale":{"domain":[0,685],"range":[637,518]},"axis":{"orient":"left","offset":-562,"title":"5312 wells","values":[0,100,200,300,400,500,600],"labelFontSize":6,"titleFontSize":6}},"y2":{"field":"d"},"color":{"field":"v","type":"quantitative","scale":{"domain":[0,11,34,50,65,89,100],"range":["#00007f","#0000ff","#00ffff","#7fff7f","#ffff00","#e8301f","#7f0000"]},"legend":{"orient":"none","legendX":746,"legendY":494,"title":null,"gradientLength":168,"gradientThickness":8,"values":[0,10,20,30,40,50,60,70,80,90,100],"labelExpr":"datum.label + ' %'","labelOverlap":false}}}}
]}
